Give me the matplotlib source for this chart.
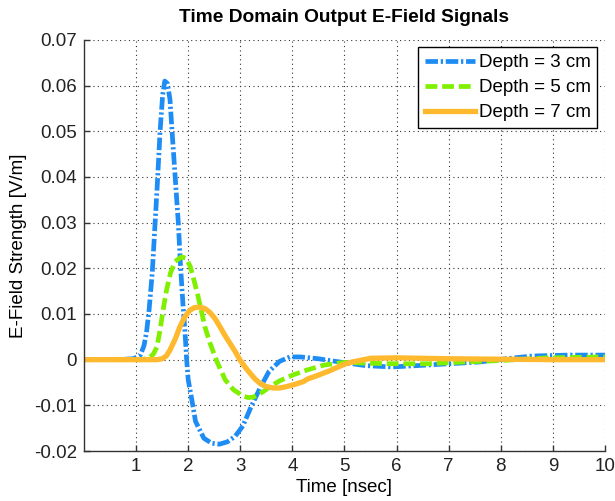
import matplotlib
matplotlib.use("Agg")
import matplotlib.pyplot as plt

plt.rcParams['font.family'] = ['Liberation Sans', 'DejaVu Sans']
plt.rcParams['axes.unicode_minus'] = False
plt.rcParams['lines.scale_dashes'] = False

# Depth = 3 cm
time_3cm = [0, 0.6, 0.95, 1.08, 1.15, 1.2, 1.25, 1.31, 1.36, 1.41, 1.46, 1.51, 1.55,
            1.6, 1.65, 1.69, 1.75, 1.81, 1.85, 1.9, 1.94, 1.97, 2.0, 2.07, 2.14, 2.3,
            2.45, 2.6, 2.75, 2.9, 3.05, 3.2, 3.38, 3.55, 3.75, 3.95, 4.15, 4.5, 4.9,
            5.4, 5.9, 6.4, 7.0, 7.6, 8.1, 8.6, 9.3, 10]
field_3cm = [0, 0, 0.0002, 0.001, 0.003, 0.006, 0.011, 0.019, 0.029, 0.039, 0.050, 0.058, 0.061,
             0.0605, 0.057, 0.050, 0.040, 0.030, 0.021, 0.012, 0.0058, 0.0, -0.0044, -0.0088, -0.0135, -0.0172,
             -0.0183, -0.0185, -0.018, -0.0168, -0.0145, -0.0105, -0.0062, -0.0026, -0.0004, 0.0006, 0.0006, 0.0002, -0.0005,
             -0.0013, -0.0016, -0.0013, -0.0009, -0.0005, 0.0002, 0.0008, 0.001, 0.001]

# Depth = 5 cm
time_5cm = [0, 1.1, 1.25, 1.33, 1.4, 1.46, 1.52, 1.58, 1.66, 1.75, 1.87, 1.96, 2.04,
            2.12, 2.19, 2.26, 2.32, 2.42, 2.55, 2.71, 2.87, 3.06, 3.15, 3.25, 3.44,
            3.6, 3.76, 4.02, 4.27, 4.6, 5.0, 5.5, 6.0, 6.6, 7.3, 8.0, 8.9, 10]
field_5cm = [0, 0, 0.0004, 0.0012, 0.0028, 0.0065, 0.011, 0.015, 0.019, 0.0215, 0.0225, 0.0222, 0.0204,
             0.017, 0.0138, 0.0103, 0.0072, 0.0036, -0.0004, -0.0044, -0.0066, -0.008, -0.0083, -0.0082, -0.007,
             -0.0057, -0.0046, -0.0033, -0.0023, -0.0012, -0.0006, -0.0008, -0.0009, -0.0009, -0.0005, -0.0002, 0.0004, 0.0006]

# Depth = 7 cm
time_7cm = [0, 1.4, 1.5, 1.58, 1.65, 1.75, 1.84, 1.93, 2.03, 2.12, 2.21, 2.32, 2.42,
            2.52, 2.61, 2.7, 2.8, 2.9, 2.99, 3.09, 3.19, 3.28, 3.38, 3.5, 3.63, 3.76,
            3.89, 4.05, 4.21, 4.3, 4.45, 4.7, 5.0, 5.15, 5.5, 6.0, 6.5, 7.0, 8.0, 9.0, 10]
field_7cm = [0, 0, 0.0002, 0.0008, 0.0021, 0.0045, 0.0072, 0.0093, 0.0108, 0.0114, 0.0115, 0.0112, 0.0103,
             0.0089, 0.0072, 0.0054, 0.0036, 0.0018, 0.0, -0.0016, -0.003, -0.0042, -0.0052, -0.0059, -0.0062, -0.0062,
             -0.0059, -0.0054, -0.0048, -0.0042, -0.0036, -0.0025, -0.001, -0.0005, 0.0003, 0.0004, 0.0003, 0.0002, 0.0001, 0.0, 0.0]

series_labels = ["Depth = 3 cm", "Depth = 5 cm", "Depth = 7 cm"]
x_ticks = [1, 2, 3, 4, 5, 6, 7, 8, 9, 10]
y_ticks = [-0.02, -0.01, 0, 0.01, 0.02, 0.03, 0.04, 0.05, 0.06, 0.07]
y_tick_labels = ["-0.02", "-0.01", "0", "0.01", "0.02", "0.03", "0.04", "0.05", "0.06", "0.07"]

fig = plt.figure(figsize=(6.15, 5.01), dpi=100)
ax = fig.add_axes([0.1366, 0.0998, 0.8471, 0.8204])

# the three output signals, deepest one drawn on top
ax.plot(time_3cm, field_3cm, color="#1e8cf5", linewidth=3.4,
        linestyle=(0, (9, 2.0, 1.6, 2.0)), label=series_labels[0])
ax.plot(time_5cm, field_5cm, color="#80f000", linewidth=3.4,
        linestyle=(0, (8.5, 3.5)), label=series_labels[1])
ax.plot(time_7cm, field_7cm, color="#ffb92e", linewidth=3.8,
        linestyle="-", label=series_labels[2])

ax.set_xlim(0, 10)
ax.set_ylim(-0.02, 0.07)
ax.set_xticks(x_ticks)
ax.set_yticks(y_ticks)
ax.set_yticklabels(y_tick_labels)

ax.grid(True, color="#333333", linewidth=0.8, linestyle=(0, (0.8, 2.4)))
ax.set_axisbelow(True)

for side in ["top", "right"]:
    ax.spines[side].set_visible(False)
for side in ["left", "bottom"]:
    ax.spines[side].set_linewidth(1.0)
    ax.spines[side].set_color("#333333")

ax.tick_params(direction="in", length=4, width=1.0, color="#333333",
               labelsize=13.5, labelcolor="#222222", pad=5)

ax.set_title("Time Domain Output E-Field Signals", fontsize=13.8,
             fontweight="bold", pad=13)
ax.set_xlabel("Time [nsec]", fontsize=13.5, labelpad=3)
ax.set_ylabel("E-Field Strength [V/m]", fontsize=13.5, labelpad=5)

leg = ax.legend(loc="upper right", fontsize=13.5, fancybox=False,
                framealpha=1, edgecolor="black", handlelength=2.7,
                handletextpad=0.2, borderaxespad=0.4, labelspacing=0.42,
                borderpad=0.35)
leg.get_frame().set_linewidth(1.0)

fig.savefig("out.png", dpi=100)
